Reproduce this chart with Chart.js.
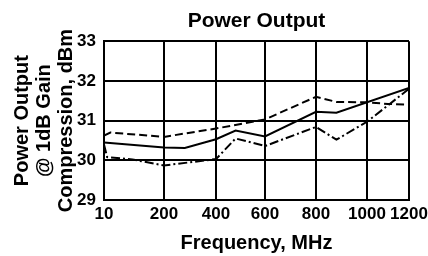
<!DOCTYPE html>
<html>
<head>
<meta charset="utf-8">
<script src="https://cdn.jsdelivr.net/npm/chart.js@4/dist/chart.umd.min.js"></script>
<style>
  html, body { margin:0; padding:0; background:#fff; }
  #wrap { width:428px; height:256px; }
</style>
</head>
<body>
<div id="wrap"><canvas id="chart" width="428" height="256"></canvas></div>
<script>
/* ====== データ（MHz / dBm） ====== */
const freqTicks = [10, 200, 400, 600, 800, 1000, 1200];
const dbmTicks  = [29, 30, 31, 32, 33];

// 実線
const solidFreq = [10, 200, 280, 400, 480, 600, 800, 880, 1200];
const solidDbm  = [30.45, 30.32, 30.31, 30.53, 30.75, 30.6, 31.22, 31.2, 31.82];

// 破線
const dashFreq = [10, 30, 200, 400, 600, 800, 880, 1000, 1100, 1200];
const dashDbm  = [30.62, 30.7, 30.59, 30.8, 31.03, 31.6, 31.47, 31.46, 31.42, 31.4];

// 一点鎖線
const dashDotFreq = [10, 20, 100, 200, 400, 480, 600, 800, 880, 1000, 1200];
const dashDotDbm  = [30.4, 30.08, 30.02, 29.87, 30.03, 30.55, 30.36, 30.84, 30.52, 30.97, 31.8];

const toPoints = (xs, ys) => xs.map((x, i) => ({ x, y: ys[i] }));

/* ====== 目盛り間隔が不揃いな横軸（元図のグリッドに合わせる） ====== */
class StretchScale extends Chart.LinearScale {
  getPixelForValue(value) {
    if (value === null || isNaN(value)) return NaN;
    const stops = this.options.stops, spacing = this.options.spacing;
    let i = 0;
    while (i < stops.length - 2 && value > stops[i + 1]) i++;
    const total = spacing.reduce((a, b) => a + b, 0);
    let acc = 0;
    for (let k = 0; k < i; k++) acc += spacing[k];
    const f = (value - stops[i]) / (stops[i + 1] - stops[i]);
    return this.getPixelForDecimal((acc + f * spacing[i]) / total);
  }
}
StretchScale.id = 'stretch';
StretchScale.defaults = Chart.LinearScale.defaults;
Chart.register(StretchScale);

const FONT = '"Liberation Sans", Arial, Helvetica, sans-serif';
const line = (data, dash) => ({
  data, borderColor:'#000', borderWidth:2, borderDash:dash,
  pointRadius:0, tension:0, fill:false
});

new Chart(document.getElementById('chart').getContext('2d'), {
  type: 'line',
  data: {
    datasets: [
      line(toPoints(dashFreq, dashDbm), [8, 4]),
      line(toPoints(solidFreq, solidDbm), []),
      line(toPoints(dashDotFreq, dashDotDbm), [9, 3, 2, 3])
    ]
  },
  options: {
    responsive: false,
    animation: false,
    events: [],
    layout: { padding: { left:0, right:19, top:0, bottom:0 } },
    scales: {
      x: {
        type: 'stretch',
        stops: freqTicks,
        spacing: [60, 52, 49, 51, 51, 42],
        min: freqTicks[0], max: freqTicks[freqTicks.length - 1],
        afterBuildTicks: s => { s.ticks = freqTicks.map(v => ({ value: v })); },
        afterFit: s => { s.height = 56; s.paddingLeft = 0; s.paddingRight = 0; },
        grid: { color:'#000', lineWidth:2, drawTicks:false },
        border: { color:'#000', width:2 },
        ticks: {
          color:'#000', padding:4, maxRotation:0, autoSkip:false,
          font:{ family:FONT, size:17, weight:'bold' },
          callback: v => String(v)
        },
        title: {
          display:true, text:'Frequency, MHz', color:'#000',
          font:{ family:FONT, size:20, weight:'bold', lineHeight:1.2 },
          padding:{ top:0, bottom:1 }
        }
      },
      y: {
        min: dbmTicks[0], max: dbmTicks[dbmTicks.length - 1],
        afterBuildTicks: s => { s.ticks = dbmTicks.map(v => ({ value: v })); },
        afterFit: s => { s.width = 104; },
        grid: { color:'#000', lineWidth:2, drawTicks:false },
        border: { color:'#000', width:2 },
        ticks: {
          color:'#000', padding:8,
          font:{ family:FONT, size:17, weight:'bold' },
          callback: v => String(v)
        },
        title: {
          display:true,
          text:['Power Output', '@ 1dB Gain', 'Compression, dBm'],
          color:'#000',
          font:{ family:FONT, size:20, weight:'bold', lineHeight:1.08 },
          padding:{ top:12, bottom:0 }
        }
      }
    },
    plugins: {
      legend: { display:false },
      tooltip: { enabled:false },
      title: {
        display:true, text:'Power Output', color:'#000', fullSize:false,
        font:{ family:FONT, size:21, weight:'bold', lineHeight:1.2 },
        padding:{ top:9, bottom:7 }
      }
    }
  }
});
</script>
</body>
</html>
